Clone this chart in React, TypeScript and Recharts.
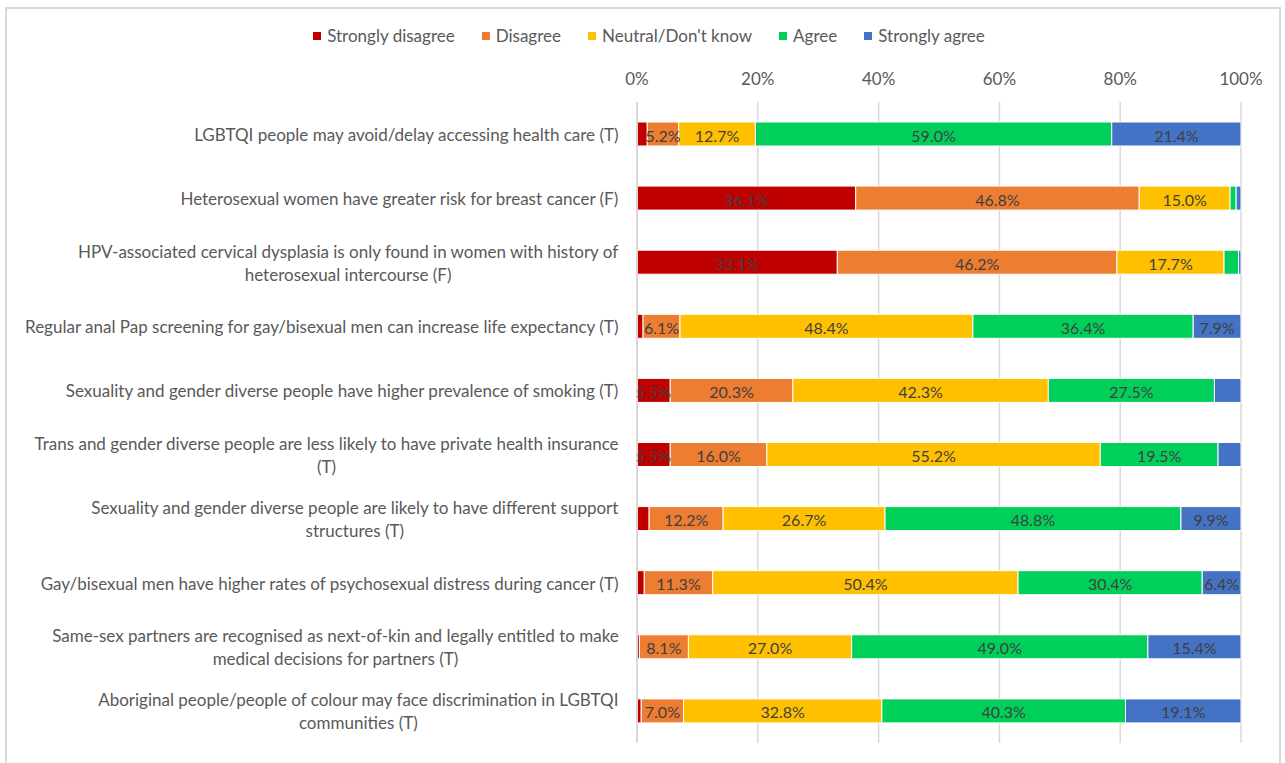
import React from "react"
import { BarChart, Bar, XAxis, YAxis, CartesianGrid, LabelList } from "recharts"

const categories = [
  "LGBTQI people may avoid/delay accessing health care (T)",
  "Heterosexual women have greater risk for breast cancer (F)",
  "HPV-associated cervical dysplasia is only found in women with history of\nheterosexual intercourse (F)",
  "Regular anal Pap screening for gay/bisexual men can increase life expectancy (T)",
  "Sexuality and gender diverse people have higher prevalence of smoking (T)",
  "Trans and gender diverse people are less likely to have private health insurance\n(T)",
  "Sexuality and gender diverse people are likely to have different support\nstructures (T)",
  "Gay/bisexual men have higher rates of psychosexual distress during cancer (T)",
  "Same-sex partners are recognised as next-of-kin and legally entitled to make\nmedical decisions for partners (T)",
  "Aboriginal people/people of colour may face discrimination in LGBTQI\ncommunities (T)",
]

const stronglyDisagree = [1.7, 36.1, 33.1, 1.0, 5.5, 5.5, 2.0, 1.2, 0.4, 0.7]
const disagree = [5.2, 46.8, 46.2, 6.1, 20.3, 16.0, 12.2, 11.3, 8.1, 7.0]
const neutral = [12.7, 15.0, 17.7, 48.4, 42.3, 55.2, 26.7, 50.4, 27.0, 32.8]
const agree = [59.0, 1.0, 2.4, 36.4, 27.5, 19.5, 48.8, 30.4, 49.0, 40.3]
const stronglyAgree = [21.4, 0.8, 0.4, 7.9, 4.4, 3.8, 9.9, 6.4, 15.4, 19.1]

const seriesNames = ["Strongly disagree", "Disagree", "Neutral/Don't know", "Agree", "Strongly agree"]
const seriesKeys = ["sd", "d", "n", "a", "sa"]
const seriesColors = ["#C00000", "#ED7D31", "#FFC000", "#00D05A", "#4472C4"]
const seriesValues = [stronglyDisagree, disagree, neutral, agree, stronglyAgree]
const xTicks = [0, 0.2, 0.4, 0.6, 0.8, 1]

const data = categories.map((name, i) => {
  const row: Record<string, any> = { name }
  seriesKeys.forEach((k, s) => (row[k] = seriesValues[s][i]))
  return row
})

const FONT = "Lato, sans-serif"
const FONT_SIZE = 17

let canvas: HTMLCanvasElement | null = null
const measure = (text: string) => {
  if (!canvas) canvas = document.createElement("canvas")
  const ctx = canvas.getContext("2d")!
  ctx.font = `${FONT_SIZE}px Lato`
  return ctx.measureText(text).width
}

const CategoryTick = ({ x, y, payload }: any) => {
  const lines = String(payload.value).split("\n")
  const right = x - 10
  const maxW = Math.max(...lines.map(measure))
  const cx = right - maxW / 2
  const lineH = 23
  const startY = y - ((lines.length - 1) * lineH) / 2
  return (
    <text fill="#595959" fontSize={FONT_SIZE} fontFamily={FONT} textAnchor="middle" dominantBaseline="central">
      {lines.map((l, i) => (
        <tspan key={i} x={cx} y={startY + i * lineH}>
          {l}
        </tspan>
      ))}
    </text>
  )
}

const PercentTick = ({ x, y, payload }: any) => (
  <text x={x} y={y - 16} fill="#595959" fontSize={FONT_SIZE} fontFamily={FONT} textAnchor="middle" dominantBaseline="central">
    {`${Math.round(payload.value * 100)}%`}
  </text>
)

const makeLabel = (values: number[]) => (props: any) => {
  const { x, y, width, height, index } = props
  const v = values[index]
  if (v < 5) return null
  return (
    <text
      x={x + width / 2}
      y={y + height / 2 + 1}
      fill="#404040"
      fontSize={16}
      fontFamily={FONT}
      textAnchor="middle"
      dominantBaseline="central"
    >
      {`${v.toFixed(1)}%`}
    </text>
  )
}

const ChartLegend = () => (
  <div
    style={{
      position: "absolute",
      left: 0,
      top: 25,
      width: 1298,
      display: "flex",
      justifyContent: "center",
      fontFamily: FONT,
      fontSize: FONT_SIZE,
      color: "#595959",
      lineHeight: "22px",
    }}
  >
    {seriesNames.map((n, i) => (
      <div key={n} style={{ display: "flex", alignItems: "center", marginRight: i < seriesNames.length - 1 ? 27 : 0 }}>
        <span style={{ display: "inline-block", width: 8, height: 8, background: seriesColors[i], marginRight: 6 }} />
        <span>{n}</span>
      </div>
    ))}
  </div>
)

export default function App() {
  return (
    <div style={{ position: "absolute", left: 0, top: 0, width: 1285, height: 763, background: "#fff", overflow: "hidden" }}>
      <div
        style={{
          position: "absolute",
          left: 5,
          top: 7,
          width: 1276,
          height: 800,
          border: "2px solid #d9d9d9",
          boxSizing: "border-box",
        }}
      />
      <ChartLegend />
      <div style={{ position: "absolute", left: 0, top: 0 }}>
        <BarChart
          width={1285}
          height={763}
          data={data}
          layout="vertical"
          stackOffset="expand"
          barSize={24}
          margin={{ top: 72, right: 44, bottom: 20, left: 0 }}
        >
          <CartesianGrid horizontal={false} stroke="#d9d9d9" strokeWidth={1.5} />
          <XAxis
            type="number"
            orientation="top"
            domain={[0, 1]}
            ticks={xTicks}
            height={30}
            axisLine={false}
            tickLine={false}
            tick={<PercentTick />}
            interval={0}
          />
          <YAxis
            type="category"
            dataKey="name"
            width={637}
            axisLine={{ stroke: "#d9d9d9", strokeWidth: 2 }}
            tickLine={false}
            tick={<CategoryTick />}
            interval={0}
          />
          {seriesKeys.map((k, s) => (
            <Bar
              key={k}
              dataKey={k}
              name={seriesNames[s]}
              stackId="1"
              fill={seriesColors[s]}
              stroke="#ffffff"
              strokeWidth={1}
              isAnimationActive={false}
            >
              <LabelList dataKey={k} content={makeLabel(seriesValues[s])} />
            </Bar>
          ))}
        </BarChart>
      </div>
    </div>
  )
}
